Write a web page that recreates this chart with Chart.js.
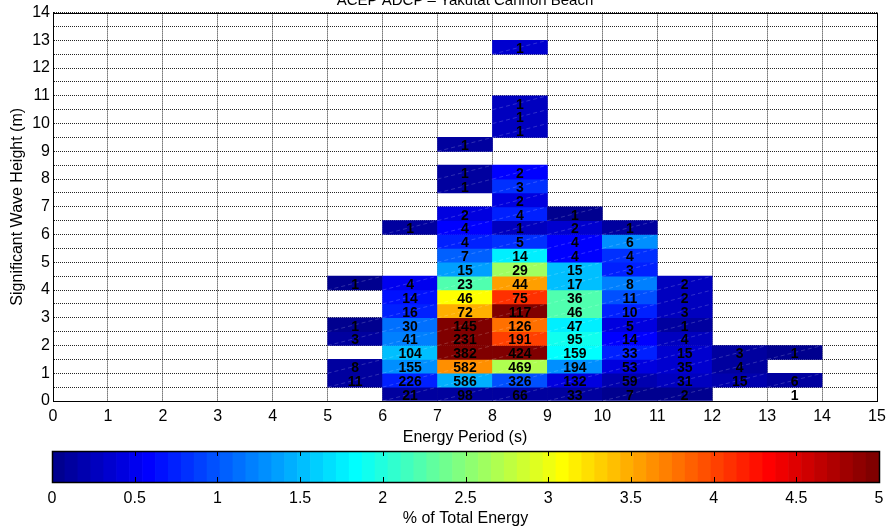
<!DOCTYPE html>
<html><head><meta charset="utf-8">
<script src="https://cdn.jsdelivr.net/npm/chart.js@4.4.1/dist/chart.umd.min.js"></script>
<style>
html,body{margin:0;padding:0;background:#fff;}
#wrap{position:relative;width:892px;height:529px;overflow:hidden;background:#fff;}
#main{position:absolute;left:0;top:0;}
#cbar{position:absolute;left:0;top:440px;}
</style></head><body>
<div id="wrap"><canvas id="main" width="892" height="450"></canvas><canvas id="cbar" width="892" height="89"></canvas></div>
<script>
// ---- DATA ----
const chartTitle = 'ACEP ADCP \u2013 Yakutat Cannon Beach';
const periodTicks = [0,1,2,3,4,5,6,7,8,9,10,11,12,13,14,15];
const heightEdges = [0,0.5,1,1.5,2,2.5,3,3.5,4,4.5,5,5.5,6,6.5,7,7.5,8,8.5,9,9.5,10,10.5,11,11.5,12,12.5,13];
const energyTicks = [0,0.5,1,1.5,2,2.5,3,3.5,4,4.5,5];
const periodBinLower = [5,6,7,8,9,10,11,12,13];
// counts per period bin, indexed by height bin (row 0 = 0-0.5 m)
const count_T5  = [null, 11, 8, null, 3, 1, null, null, 1];
const count_T6  = [21, 226, 155, 104, 41, 30, 16, 14, 4, null, null, null, 1];
const count_T7  = [98, 586, 582, 382, 231, 145, 72, 46, 23, 15, 7, 4, 4, 2, null, 1, 1, null, 1];
const count_T8  = [66, 326, 469, 424, 191, 126, 117, 75, 44, 29, 14, 5, 1, 4, 2, 3, 2, null, null, 1, 1, 1, null, null, null, 1];
const count_T9  = [33, 132, 194, 159, 95, 47, 46, 36, 17, 15, 4, 4, 2, 1];
const count_T10 = [7, 59, 53, 33, 14, 5, 10, 11, 8, 3, 4, 6, 1];
const count_T11 = [2, 31, 35, 15, 4, 1, 3, 2, 2];
const count_T12 = [null, 15, 4, 3];
const count_T13 = [1, 6, null, 1];
const energy_T5  = [null, 0.08, 0.10, null, 0.10, 0.06, null, null, 0.06];
const energy_T6  = [0.10, 0.75, 1.30, 1.56, 1.19, 1.12, 0.75, 0.69, 0.50, null, null, null, 0.12];
const energy_T7  = [0.12, 1.44, 3.63, 5.0, 5.0, 5.0, 3.44, 3.12, 2.19, 1.38, 1.06, 0.75, 0.62, 0.44, null, 0.15, 0.15, null, 0.15];
const energy_T8  = [0.10, 0.95, 2.69, 5.0, 4.0, 3.81, 5.0, 4.13, 3.56, 2.63, 1.75, 0.85, 0.25, 0.75, 0.44, 0.80, 0.56, null, null, 0.31, 0.31, 0.31, null, null, null, 0.38];
const energy_T9  = [0.08, 0.44, 1.31, 1.81, 1.90, 1.75, 2.25, 2.20, 1.56, 1.50, 0.56, 0.56, 0.38, 0.06];
const energy_T10 = [0.05, 0.22, 0.44, 0.75, 0.56, 0.44, 0.75, 1.00, 1.19, 0.78, 0.85, 1.25, 0.12];
const energy_T11 = [0.05, 0.25, 0.38, 0.38, 0.25, 0.12, 0.31, 0.25, 0.25];
const energy_T12 = [null, 0.19, 0.10, 0.10];
const energy_T13 = [null, 0.08, null, 0.05];

const countCols  = [count_T5, count_T6, count_T7, count_T8, count_T9, count_T10, count_T11, count_T12, count_T13];
const energyCols = [energy_T5, energy_T6, energy_T7, energy_T8, energy_T9, energy_T10, energy_T11, energy_T12, energy_T13];

// ---- colormap (MATLAB jet, 64 levels) ----
function jet64(i){
  const k = i + 1;
  const u = q => q <= 16 ? q/16 : (q <= 31 ? 1 : (48 - q)/16);
  const r = k >= 25 ? u(k - 24) : 0;
  const g = (k >= 9 && k <= 55) ? u(k - 8) : 0;
  const b = k <= 39 ? u(k + 8) : 0;
  return 'rgb(' + Math.round(r*255) + ',' + Math.round(g*255) + ',' + Math.round(b*255) + ')';
}
const cMin = energyTicks[0], cMax = energyTicks[energyTicks.length-1];
function colorFor(v){
  let idx = Math.floor((v - cMin)/(cMax - cMin)*64);
  idx = Math.max(0, Math.min(63, idx));
  return jet64(idx);
}

// ---- build cells ----
const cells = [];
periodBinLower.forEach((T, c) => {
  countCols[c].forEach((n, r) => {
    if (n == null) return;
    cells.push({x: T + 0.5, lo: heightEdges[r], hi: heightEdges[r+1], n: n, e: energyCols[c][r]});
  });
});
const filled = cells.filter(c => c.e != null);

const FONT = '"Liberation Sans", Arial, Helvetica, sans-serif';

const overlay = {
  id: 'overlay',
  afterDraw(chart){
    const {ctx, chartArea: a, scales: {x, y}} = chart;
    ctx.save();
    // faint diagonal artefacts
    ctx.strokeStyle = 'rgba(255,255,255,0.18)';
    ctx.lineWidth = 1;
    ctx.setLineDash([4,3]);
    filled.forEach(c => {
      const l = x.getPixelForValue(c.x - 0.5), r = x.getPixelForValue(c.x + 0.5);
      const b = y.getPixelForValue(c.lo), t = y.getPixelForValue(c.hi);
      ctx.beginPath(); ctx.moveTo(l, b); ctx.lineTo(r, t); ctx.stroke();
    });
    ctx.setLineDash([]);
    // box
    ctx.strokeStyle = '#000';
    ctx.lineWidth = 1;
    ctx.strokeRect(Math.round(a.left)+0.5, Math.round(a.top)+0.5, Math.round(a.right - a.left), Math.round(a.bottom - a.top));
    // count labels
    ctx.fillStyle = '#000';
    ctx.font = 'bold 14px ' + FONT;
    ctx.textAlign = 'center';
    ctx.textBaseline = 'middle';
    cells.forEach(c => {
      ctx.fillText(String(c.n), x.getPixelForValue(c.x), y.getPixelForValue((c.lo + c.hi)/2) + 2);
    });
    // title (partly clipped at top in the reference)
    ctx.font = '15px ' + FONT;
    ctx.textBaseline = 'alphabetic';
    ctx.fillText(chartTitle, (a.left + a.right)/2, 5);
    ctx.restore();
  }
};

new Chart(document.getElementById('main'), {
  type: 'bar',
  data: {
    datasets: [{
      data: filled.map(c => ({x: c.x, y: [c.lo, c.hi]})),
      backgroundColor: filled.map(c => colorFor(c.e)),
      borderWidth: 0,
      barPercentage: 1,
      categoryPercentage: 1
    }]
  },
  options: {
    responsive: false,
    animation: false,
    devicePixelRatio: 1,
    layout: {padding: {left: 0, right: 15, top: 12, bottom: 0}},
    plugins: {legend: {display: false}, tooltip: {enabled: false}, title: {display: false}},
    scales: {
      x: {
        type: 'linear', position: 'bottom', min: periodTicks[0], max: periodTicks[periodTicks.length-1],
        offset: false, z: 1,
        afterFit: s => { s.height = 49; },
        afterBuildTicks: s => { s.ticks = periodTicks.map(v => ({value: v})); },
        ticks: {autoSkip: false, maxRotation: 0, color: '#000', padding: 6, font: {family: FONT, size: 16}},
        grid: {offset: false, drawTicks: false, color: 'rgba(0,0,0,0.85)', lineWidth: 1},
        border: {display: true, color: '#000', width: 1, dash: [1,1]},
        title: {display: true, text: 'Energy Period (s)', color: '#000', font: {family: FONT, size: 16}, padding: {top: 0, bottom: 3}}
      },
      y: {
        type: 'linear', position: 'left', min: 0, max: 14, z: 1,
        afterFit: s => { s.width = 53; },
        afterBuildTicks: s => { s.ticks = heightEdges.concat([13.5, 14]).map(v => ({value: v})); },
        ticks: {autoSkip: false, color: '#000', padding: 3, font: {family: FONT, size: 16},
          callback: v => Number.isInteger(v) ? String(v) : ''},
        grid: {drawTicks: false, color: 'rgba(0,0,0,0.85)', lineWidth: 1},
        border: {display: true, color: '#000', width: 1, dash: [1,1]},
        title: {display: true, text: 'Significant Wave Height (m)', color: '#000', font: {family: FONT, size: 16}, padding: {top: 8, bottom: 0}}
      }
    }
  },
  plugins: [overlay]
});

// ---- colour bar ----
const cbLevels = [];
for (let i = 0; i < 64; i++) cbLevels.push(i);
const cbWidth = (cMax - cMin)/64;
const cbOverlay = {
  id: 'cbOverlay',
  afterDraw(chart){
    const {ctx, chartArea: a, scales: {x}} = chart;
    ctx.save();
    ctx.strokeStyle = '#000';
    ctx.lineWidth = 1;
    energyTicks.forEach(v => {
      const px = Math.round(x.getPixelForValue(v)) + 0.5;
      ctx.beginPath(); ctx.moveTo(px, a.top); ctx.lineTo(px, a.top + 5);
      ctx.moveTo(px, a.bottom); ctx.lineTo(px, a.bottom - 5); ctx.stroke();
    });
    ctx.lineWidth = 1.5;
    ctx.strokeRect(Math.round(a.left)+0.5, Math.round(a.top)+0.5, Math.round(a.right - a.left), Math.round(a.bottom - a.top));
    ctx.restore();
  }
};
new Chart(document.getElementById('cbar'), {
  type: 'bar',
  data: {
    datasets: [{
      data: cbLevels.map(i => ({x: cMin + (i + 0.5)*cbWidth, y: [0, 1]})),
      backgroundColor: cbLevels.map(i => jet64(i)),
      borderWidth: 0, barPercentage: 1, categoryPercentage: 1
    }]
  },
  options: {
    responsive: false, animation: false, devicePixelRatio: 1,
    layout: {padding: {left: 52, right: 13, top: 11, bottom: 0}},
    plugins: {legend: {display: false}, tooltip: {enabled: false}},
    scales: {
      x: {
        type: 'linear', min: cMin, max: cMax, offset: false,
        afterFit: s => { s.height = 47; },
        afterBuildTicks: s => { s.ticks = energyTicks.map(v => ({value: v})); },
        ticks: {autoSkip: false, maxRotation: 0, color: '#000', padding: 7, font: {family: FONT, size: 16},
          callback: v => String(v)},
        grid: {display: false, drawTicks: false},
        border: {display: false},
        title: {display: true, text: '% of Total Energy', color: '#000', font: {family: FONT, size: 16}, padding: {top: 0, bottom: 1}}
      },
      y: {display: false, min: 0, max: 1}
    }
  },
  plugins: [cbOverlay]
});
</script>
</body></html>
